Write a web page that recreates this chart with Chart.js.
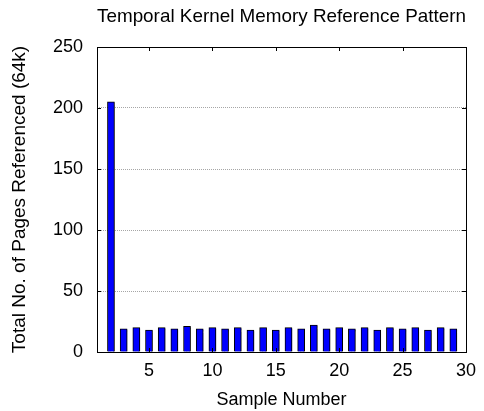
<!DOCTYPE html>
<html>
<head>
<meta charset="utf-8">
<script src="https://cdn.jsdelivr.net/npm/chart.js@4.4.1/dist/chart.umd.min.js"></script>
<style>
  html, body { margin: 0; padding: 0; background: #fff; }
  #wrap { width: 484px; height: 411px; }
</style>
</head>
<body>
<div id="wrap"><canvas id="memChart" width="484" height="411"></canvas></div>
<script>
const sample_numbers = [2, 3, 4, 5, 6, 7, 8, 9, 10, 11, 12, 13, 14, 15, 16, 17, 18, 19, 20, 21, 22, 23, 24, 25, 26, 27, 28, 29]
const pages_referenced = [205, 19, 20, 18, 20, 19, 21, 19, 20, 19, 20, 18, 20, 18, 20, 19, 22, 19, 20, 19, 20, 18, 20, 19, 20, 18, 20, 19]
const x_ticks = [5, 10, 15, 20, 25, 30]
const y_ticks = [0, 50, 100, 150, 200, 250]

const font_name = "'Liberation Sans', Arial, sans-serif"

// frame round the plot + inward tick marks on all four sides
const frame_plugin = {
    id: 'frame',
    beforeDatasetsDraw(chart) {
        const ctx = chart.ctx
        ctx.save()
        ctx.shadowColor = 'rgba(0,0,0,0.35)'
        ctx.shadowOffsetX = 2
        ctx.shadowOffsetY = 1
        ctx.shadowBlur = 1
    },
    afterDatasetsDraw(chart) {
        chart.ctx.restore()
    },
    afterDraw(chart) {
        const ctx = chart.ctx
        const a = chart.chartArea
        const xs = chart.scales.x
        const ys = chart.scales.y
        ctx.save()
        ctx.strokeStyle = '#000'
        ctx.lineWidth = 1
        ctx.beginPath()
        x_ticks.forEach(v => {
            const px = Math.round(xs.getPixelForValue(v)) + 0.5
            ctx.moveTo(px, a.top); ctx.lineTo(px, a.top + 4)
            ctx.moveTo(px, a.bottom); ctx.lineTo(px, a.bottom - 4)
        })
        y_ticks.forEach(v => {
            const py = Math.round(ys.getPixelForValue(v)) + 0.5
            ctx.moveTo(a.left, py); ctx.lineTo(a.left + 4, py)
            ctx.moveTo(a.right, py); ctx.lineTo(a.right - 4, py)
        })
        ctx.stroke()
        ctx.strokeRect(Math.round(a.left) + 0.5, Math.round(a.top) + 0.5,
            Math.round(a.right - a.left), Math.round(a.bottom - a.top))
        ctx.restore()
    }
}

let mem_document = document.getElementById('memChart').getContext('2d')

let mem_chart = new Chart(mem_document, {
    type: 'bar',
    data: {
        datasets: [{
            label: 'Pages Referenced',
            data: sample_numbers.map((x, i) => ({x: x, y: pages_referenced[i]})),
            backgroundColor: '#0000ff',
            borderColor: '#000000',
            borderWidth: 1,
            barThickness: 7
        }]
    },
    options: {
        responsive: false,
        animation: false,
        layout: {padding: {left: 0, right: 13, top: 0, bottom: 0}},
        plugins: {
            legend: {display: false},
            tooltip: {enabled: false},
            title: {
                display: true,
                text: 'Temporal Kernel Memory Reference Pattern',
                fullSize: false,
                color: '#000',
                font: {family: font_name, size: 19, weight: 'normal'},
                padding: {top: 5, bottom: 19.2}
            }
        },
        scales: {
            x: {
                type: 'linear',
                offset: false,
                min: 0.9,
                max: 30,
                afterBuildTicks: scale => { scale.ticks = x_ticks.map(v => ({value: v})) },
                afterFit: scale => { scale.height = 59 },
                grid: {display: false, drawTicks: false, offset: false},
                border: {display: false},
                ticks: {
                    color: '#000',
                    padding: 8,
                    maxRotation: 0,
                    font: {family: font_name, size: 18}
                },
                title: {
                    display: true,
                    text: 'Sample Number',
                    color: '#000',
                    font: {family: font_name, size: 18},
                    padding: {top: 5, bottom: 0}
                }
            },
            y: {
                min: 0,
                max: 250,
                afterBuildTicks: scale => { scale.ticks = y_ticks.map(v => ({value: v})) },
                afterFit: scale => { scale.width = 97 },
                grid: {
                    drawTicks: false,
                    lineWidth: 1,
                    color: c => (c.tick && c.tick.value > 0 && c.tick.value < 250) ? '#a6a6a6' : 'rgba(0,0,0,0)'
                },
                border: {display: false, dash: [1, 1]},
                ticks: {
                    color: '#000',
                    padding: 14,
                    font: {family: font_name, size: 18}
                },
                title: {
                    display: true,
                    text: 'Total No. of Pages Referenced (64k)',
                    color: '#000',
                    font: {family: font_name, size: 19},
                    padding: {top: 8, bottom: 0}
                }
            }
        }
    },
    plugins: [frame_plugin]
})
</script>
</body>
</html>
